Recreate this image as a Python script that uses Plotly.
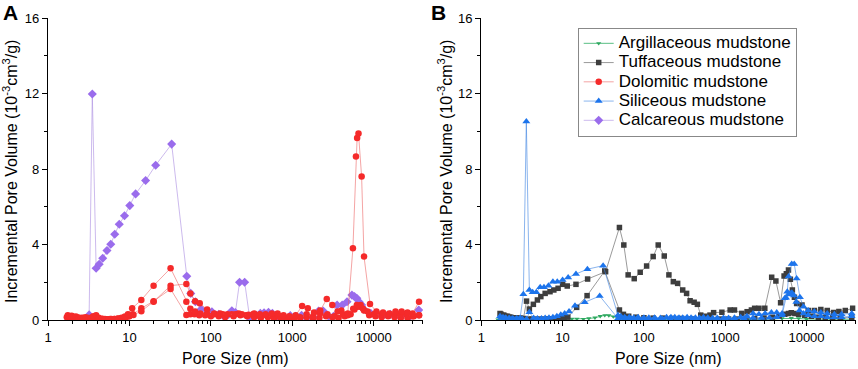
import plotly.graph_objects as go

# ---------------- data (pore size nm, incremental pore volume 1e-3 cm3/g) ----------------
dolomitic_1 = [(1.75,0.25),(1.85,0.2),(1.95,0.22),(2.05,0.15),(2.2,0.18),(2.35,0.12),(2.5,0.1),(2.7,0.12),
               (2.9,0.15),(3.1,0.1),(3.35,0.08),(3.6,0.2),(3.9,0.25),(4.2,0.12),(4.6,0.06),(5.0,0.05),(5.5,0.04),
               (6.0,0.05),(6.6,0.05),(7.3,0.08),(8.0,0.12),(8.8,0.18),(9.6,0.3),(10.8,0.62),(14,1.06),(19.8,1.82),
               (32,2.74),(50,0.97),(56,0.6),(64,0.45),(74,0.35),(90,0.3),(110,0.3),(130,0.35),(160,0.3),(200,0.3),
               (240,0.3),(290,0.28),(340,0.35),(400,0.3),(470,0.3),(560,0.35),(660,0.35),(780,0.25),(920,0.2),
               (1100,0.25),(1320,0.74),(1550,0.62),(1850,0.4),(2200,0.5),(2650,1.11),(3100,0.79),(3600,0.45),
               (4200,0.3),(4800,0.35),(5550,3.8),(6050,8.66),(6250,9.64),(6500,9.88),(7100,7.6),(7600,3.36),
               (9000,0.85),(10800,0.45),(13000,0.4),(15500,0.35),(18500,0.45),(22000,0.45),(26000,0.4),
               (30000,0.35),(36000,0.97)]
dolomitic_2 = [(1.8,0.2),(2.0,0.18),(2.2,0.15),(2.4,0.12),(2.6,0.1),(2.9,0.08),(3.2,0.1),(3.5,0.15),(3.8,0.1),
               (4.2,0.05),(4.7,0.05),(5.2,0.04),(5.8,0.05),(6.5,0.05),(7.2,0.06),(8.0,0.08),(9.0,0.12),(10.0,0.2),
               (11.2,0.27),(14,0.47),(19.8,0.97),(32,1.82),(50,1.91),(56,1.41),(64,1.0),(73,0.89),(90,0.55),
               (110,0.35),(140,0.3),(180,0.3),(220,0.35),(270,0.25),(330,0.3),(400,0.2),(480,0.25),(580,0.15),
               (700,0.2),(850,0.1),(1000,0.12),(1250,0.15),(1500,0.3),(1800,0.2),(2200,0.35),(2700,0.3),
               (3300,0.2),(4000,0.5),(4800,0.25),(5600,0.6),(6200,0.8),(6800,0.7),(7400,0.6),(8400,0.45),
               (10000,0.3),(12500,0.3),(15000,0.25),(18000,0.3),(21000,0.3),(25000,0.3),(30000,0.2),(36000,0.25)]
dolomitic_3 = [(1.7,0.15),(1.9,0.1),(2.1,0.12),(2.3,0.1),(2.5,0.08),(2.8,0.05),(3.1,0.05),(3.4,0.08),(3.7,0.05),
               (4.1,0.05),(4.5,0.03),(5.0,0.03),(5.6,0.03),(6.2,0.04),(7.0,0.05),(7.8,0.08),(8.7,0.15),(9.7,0.2),
               (11,0.3),(14,0.62),(19.8,1.0),(32,1.64),(50,0.27),(56,0.3),(63,0.3),(72,0.25),(85,0.25),(100,0.2),
               (125,0.2),(150,0.15),(190,0.2),(230,0.25),(280,0.2),(340,0.15),(410,0.1),(500,0.15),(600,0.1),
               (720,0.05),(870,0.1),(1050,0.05),(1250,0.1),(1500,0.15),(1800,0.05),(2150,0.1),(2600,0.2),
               (3100,0.15),(3700,0.1),(4400,0.2),(5200,0.3),(5800,0.55),(6300,0.7),(6900,0.8),(7600,0.5),
               (8800,0.25),(10500,0.2),(12500,0.15),(15000,0.2),(18000,0.15),(21500,0.1),(26000,0.1),
               (31000,0.2),(36000,0.25)]
calcareous_1 = [(1.8,0.05),(2.0,0.05),(2.3,0.05),(2.6,0.05),(2.9,0.05),(3.2,0.27),(3.5,11.97),(3.9,2.74),
                (4.25,2.95),(4.7,3.27),(5.3,3.68),(5.9,4.01),(6.6,4.54),(7.5,5.07),(8.7,5.52),(10.1,6.06),
                (11.9,6.68),(15.8,7.39),(21,8.2),(33,9.32),(50.6,2.32),(56.6,1.41),(64.6,0.97),(76,0.57),
                (91,0.44),(103,0.44),(125,0.3),(144,0.2),(165,0.3),(181,0.49),(200,0.4),(225,2.0),(260,2.0),
                (300,0.09),(330,0.15),(360,0.25),(405,0.35),(450,0.38),(510,0.41),(570,0.35),(640,0.2),
                (715,0.09),(800,0.1),(945,0.23),(1100,0.2),(1300,0.25),(1500,0.1),(1800,0.15),(2100,0.48),
                (2400,0.48),(2800,0.2),(3200,0.2),(3550,0.79),(4100,0.79),(4700,0.97),(5400,1.32),(5800,1.24),
                (6200,1.15),(6600,0.97),(7100,0.8),(7550,0.57),(9200,0.35),(11000,0.3),(13500,0.3),
                (16000,0.3),(19500,0.3),(23000,0.3),(28000,0.2),(35700,0.53)]

argillaceous_1 = [(1.6,0.02),(1.8,0.03),(2.0,0.03),(2.3,0.03),(2.6,0.03),(3.0,0.03),(3.5,0.05),(4.0,0.05),
                  (4.6,0.05),(5.3,0.05),(6.0,0.06),(7.0,0.06),(8.0,0.06),(9.5,0.07),(11,0.07),(13,0.06),
                  (15,0.06),(18,0.05),(21,0.08),(25,0.12),(29,0.2),(33,0.25),(37,0.24),(42,0.18),(48,0.08),
                  (55,0.05),(65,0.04),(80,0.03),(100,0.03),(130,0.03),(170,0.03),(220,0.02),(300,0.02),
                  (400,0.02),(550,0.02),(750,0.02),(1000,0.02),(1400,0.02),(2000,0.03),(2800,0.03),
                  (3800,0.05),(5000,0.08),(6500,0.1),(8000,0.08),(10000,0.05),(14000,0.04),(20000,0.04),
                  (28000,0.04),(36000,0.04)]
tuffaceous_1 = [(1.7,0.35),(1.85,0.25),(2.0,0.2),(2.2,0.15),(2.4,0.12),(2.7,0.1),(3.0,0.1),(3.3,0.08),
                (3.6,1.0),(3.9,0.58),(4.37,0.83),(4.9,1.06),(5.4,1.24),(6.1,1.41),(7.0,1.5),(7.8,1.59),
                (8.8,1.68),(10,1.89),(11.4,1.8),(14.6,1.89),(20.3,2.17),(33.8,2.56),(50,4.9),(56.6,3.98),
                (64,2.39),(76,2.19),(90,2.53),(108,2.86),(130,3.36),(150,3.98),(178,3.39),(203,2.39),
                (230,2.03),(260,1.94),(300,1.59),(335,1.41),(370,1.02),(415,0.94),(455,0.83),(500,0.26),
                (570,0.2),(650,0.26),(720,0.39),(910,0.41),(1150,0.53),(1300,0.53),(1600,0.35),(1860,0.44),
                (2100,0.53),(2300,0.62),(2600,0.62),(3070,0.62),(3730,2.26),(4200,2.07),(4800,0.92),
                (5300,2.33),(5650,2.45),(6000,2.65),(6330,2.16),(6700,1.59),(7100,1.2),(7560,0.88),
                (8800,0.79),(10500,0.5),(12500,0.5),(15000,0.55),(18000,0.5),(21500,0.4),(25000,0.45),
                (30000,0.5),(37000,0.62)]
tuffaceous_2 = [(1.75,0.3),(1.9,0.25),(2.1,0.2),(2.3,0.15),(2.5,0.12),(2.8,0.1),(3.1,0.08),(3.4,0.06),
                (3.8,0.05),(4.2,0.05),(4.7,0.05),(5.2,0.05),(5.8,0.05),(6.5,0.06),(7.3,0.06),(8.2,0.08),
                (9.2,0.1),(10.3,0.12),(11.6,0.15),(14.9,0.67),(20,1.29),(33,2.6),(50,0.53),(56,0.3),
                (65,0.2),(80,0.15),(100,0.12),(130,0.1),(170,0.1),(220,0.08),(290,0.08),(380,0.06),
                (500,0.06),(650,0.05),(850,0.05),(1100,0.05),(1400,0.05),(1800,0.06),(2300,0.08),
                (3000,0.1),(3800,0.15),(4600,0.2),(5400,0.3),(6000,0.35),(6500,0.38),(7200,0.35),
                (8000,0.3),(9500,0.25),(11500,0.2),(14000,0.15),(17000,0.15),(21000,0.12),(26000,0.12),
                (36000,0.12)]
siliceous_1 = [(1.7,0.2),(1.85,0.15),(2.0,0.12),(2.2,0.1),(2.4,0.08),(2.7,0.08),(3.0,0.1),(3.29,1.36),
               (3.58,10.52),(3.9,1.59),(4.28,1.47),(4.75,1.47),(5.3,1.73),(5.9,1.73),(6.7,1.82),(7.6,2.03),
               (8.6,2.03),(10,2.12),(11.7,2.25),(14.6,2.44),(20.2,2.69),(31.5,2.88),(48,0.25),(52,0.2),
               (58,0.15),(66,0.15),(75,0.12),(85,0.15),(100,0.12),(115,0.12),(135,0.12),(160,0.1),
               (190,0.15),(215,0.15),(240,0.15),(270,0.12),(300,0.12),(340,0.15),(380,0.12),(430,0.12),
               (480,0.1),(540,0.15),(610,0.12),(700,0.1),(800,0.1),(950,0.1),(1100,0.1),(1300,0.12),
               (1550,0.15),(1850,0.2),(2200,0.35),(2600,0.3),(3100,0.35),(3700,0.4),(4300,0.4),(5000,0.35),
               (5400,1.15),(5800,1.5),(6010,2.3),(6580,2.97),(7060,2.97),(7560,2.2),(8300,1.2),(9200,0.7),
               (10500,0.5),(12500,0.45),(15000,0.4),(18000,0.35),(22000,0.3),(27000,0.3),(36000,0.35)]
siliceous_2 = [(1.75,0.1),(1.95,0.08),(2.2,0.06),(2.5,0.05),(2.8,0.05),(3.2,0.05),(3.6,0.05),(3.9,0.41),
               (4.4,0.1),(4.9,0.08),(5.5,0.08),(6.1,0.1),(6.8,0.12),(7.6,0.15),(8.5,0.2),(9.5,0.28),
               (10.6,0.35),(12,0.45),(14.2,0.76),(18.7,0.94),(28.6,1.27),(48,0.08),(53,0.1),(60,0.08),
               (70,0.06),(82,0.06),(97,0.05),(115,0.06),(140,0.05),(170,0.05),(210,0.08),(260,0.06),
               (320,0.05),(400,0.05),(500,0.05),(620,0.05),(780,0.05),(1000,0.05),(1300,0.05),(1700,0.08),
               (2200,0.1),(2800,0.1),(3500,0.12),(4300,0.15),(5000,0.25),(5600,1.18),(6000,1.35),
               (6300,1.41),(6600,1.45),(7000,1.3),(7500,0.95),(8200,0.5),(9200,0.35),(10500,0.25),
               (12500,0.2),(15000,0.2),(18000,0.15),(22000,0.15),(27000,0.15),(36000,0.2)]

x_tick_vals = [1, 10, 100, 1000, 10000]
x_tick_text = ["1", "10", "100", "1000", "10000"]
y_tick_vals = [0, 4, 8, 12, 16]

FONT = "Liberation Sans, Arial, sans-serif"

styles = {
    "Argillaceous mudstone": dict(mc="#2ea85f", lc="rgba(60,180,110,0.85)", sym="triangle-down", size=4.5, rank=1),
    "Tuffaceous mudstone": dict(mc="#3d3d3d", lc="rgba(120,120,120,0.75)", sym="square", size=5.5, rank=2),
    "Dolomitic mudstone": dict(mc="#f52a2a", lc="rgba(235,90,90,0.55)", sym="circle", size=6.5, rank=3),
    "Siliceous mudstone": dict(mc="#1c74ec", lc="rgba(60,130,225,0.6)", sym="triangle-up", size=7, rank=4),
    "Calcareous mudstone": dict(mc="#9a6cec", lc="rgba(170,140,225,0.6)", sym="diamond", size=7, rank=5),
}

fig = go.Figure()

def add(series, name, xa, ya, show):
    s = styles[name]
    fig.add_trace(go.Scatter(
        x=[p[0] for p in series], y=[p[1] for p in series], mode="lines+markers",
        name="<span style='font-size:17px'>%s</span>" % name, legendgroup=name,
        showlegend=show, legendrank=s["rank"],
        xaxis=xa, yaxis=ya,
        line=dict(color=s["lc"], width=1),
        marker=dict(color=s["mc"], symbol=s["sym"], size=s["size"], line=dict(width=0)),
    ))

# Panel A
add(calcareous_1, "Calcareous mudstone", "x", "y", True)
add(dolomitic_3, "Dolomitic mudstone", "x", "y", False)
add(dolomitic_2, "Dolomitic mudstone", "x", "y", False)
add(dolomitic_1, "Dolomitic mudstone", "x", "y", True)
# Panel B
add(argillaceous_1, "Argillaceous mudstone", "x2", "y2", True)
add(tuffaceous_2, "Tuffaceous mudstone", "x2", "y2", False)
add(tuffaceous_1, "Tuffaceous mudstone", "x2", "y2", True)
add(siliceous_2, "Siliceous mudstone", "x2", "y2", False)
add(siliceous_1, "Siliceous mudstone", "x2", "y2", True)

W, H = 858, 369
xr = [0, 4.605]
minor_x = [m * 10 ** d for d in range(0, 5) for m in range(2, 10) if m * 10 ** d < 40500]

def xax(dom, anchor, side="bottom", overlay=None):
    d = dict(domain=dom, type="log", range=xr, anchor=anchor, side=side, automargin=False,
             showline=True, linecolor="black", linewidth=1.3, showgrid=False, zeroline=False,
             tickmode="array", tickvals=x_tick_vals, ticktext=x_tick_text,
             ticklen=5, tickwidth=1, tickcolor="black",
             tickfont=dict(family=FONT, size=13, color="black"),
             minor=dict(tickmode="array", tickvals=minor_x, ticklen=3, tickwidth=1, tickcolor="black",
                        ticks="outside" if side == "bottom" else "inside", showgrid=False),
             ticks="outside" if side == "bottom" else "inside",
             showticklabels=(side == "bottom"))
    if overlay:
        d["overlaying"] = overlay
    return d

def yax(dom, anchor, side="left", overlay=None):
    d = dict(domain=dom, range=[0, 16], anchor=anchor, side=side, automargin=False,
             showline=True, linecolor="black", linewidth=1.3, showgrid=False, zeroline=False,
             tickmode="array", tickvals=y_tick_vals,
             ticklen=5, tickwidth=1, tickcolor="black",
             tickfont=dict(family=FONT, size=13, color="black"),
             minor=dict(tickmode="linear", tick0=0, dtick=2, ticklen=3, tickwidth=1, tickcolor="black",
                        ticks="outside" if side == "left" else "inside", showgrid=False),
             ticks="outside" if side == "left" else "inside",
             showticklabels=(side == "left"))
    if overlay:
        d["overlaying"] = overlay
    return d

domA = [48 / W, 423 / W]
domB = [481.3 / W, 855.7 / W]
domY = [1 - 320 / H, 1 - 18 / H]

fig.update_layout(
    width=W, height=H,
    margin=dict(l=0, r=0, t=0, b=0, pad=0, autoexpand=False),
    paper_bgcolor="white", plot_bgcolor="white",
    font=dict(family=FONT, color="black"),
    xaxis=xax(domA, "y"),
    yaxis=yax(domY, "x"),
    xaxis2=xax(domB, "y2"),
    yaxis2=yax(domY, "x2"),
    xaxis3=xax(domA, "y", side="top", overlay="x"),
    yaxis3=yax(domY, "x", side="right", overlay="y"),
    xaxis4=xax(domB, "y2", side="top", overlay="x2"),
    yaxis4=yax(domY, "x2", side="right", overlay="y2"),
    legend=dict(x=577.7 / W, y=1 - 27.7 / H, xanchor="left", yanchor="top",
                bgcolor="white", bordercolor="#888888", borderwidth=1,
                font=dict(family=FONT, size=12.5, color="black"),
                tracegroupgap=0, itemwidth=30),
    showlegend=True,
)

ytitle = "Incremental Pore Volume (10<sup>-3</sup>cm<sup>3</sup>/g)"
ann = [
    dict(text="Pore Size (nm)", x=235.5 / W, y=1 - 358 / H),
    dict(text="Pore Size (nm)", x=668.5 / W, y=1 - 358 / H),
    dict(text=ytitle, x=10 / W, y=1 - 172 / H, textangle=-90),
    dict(text=ytitle, x=445 / W, y=1 - 172 / H, textangle=-90),
]
for a in ann:
    fig.add_annotation(xref="paper", yref="paper", showarrow=False, xanchor="center", yanchor="middle",
                       font=dict(family=FONT, size=16, color="black"), **a)
for lbl, px in (("A", 1), ("B", 429)):
    fig.add_annotation(text="<b>%s</b>" % lbl, xref="paper", yref="paper", x=px / W, y=1 + 1 / H,
                       xanchor="left", yanchor="top", showarrow=False,
                       font=dict(family=FONT, size=21, color="black"))

fig.write_html("out.html", config={"displayModeBar": False},
               post_script="document.body.style.margin='0';")
